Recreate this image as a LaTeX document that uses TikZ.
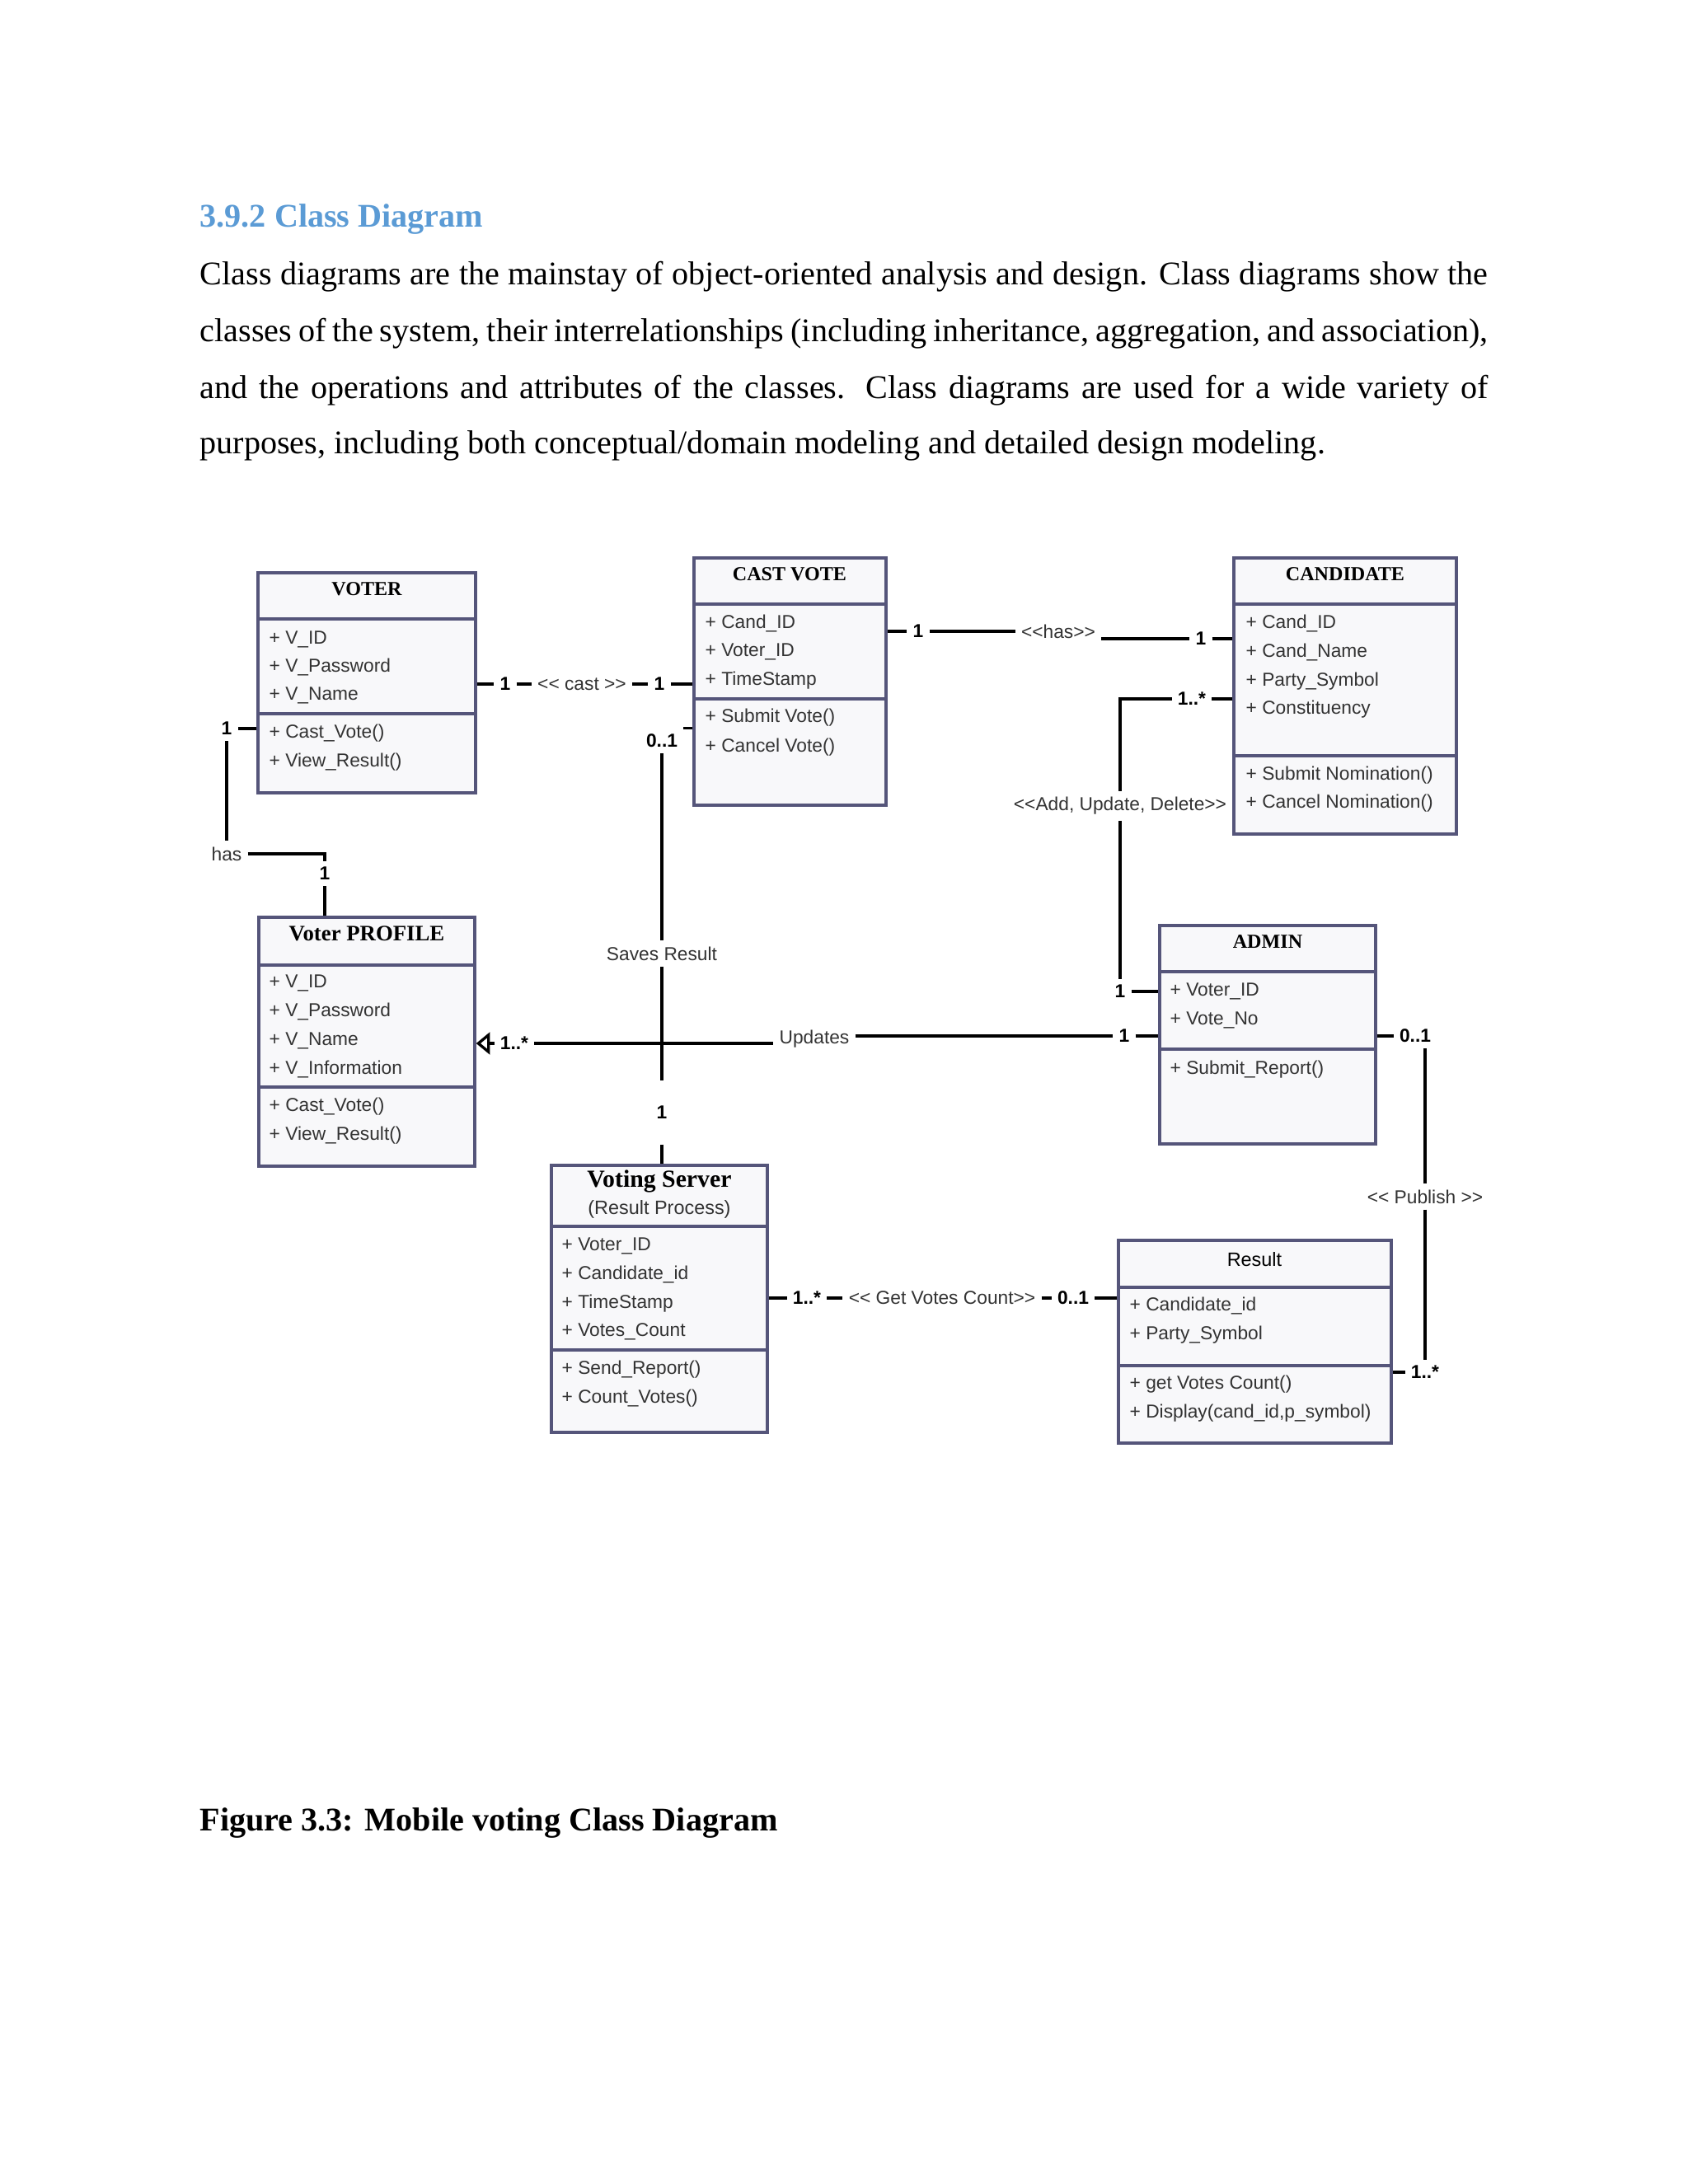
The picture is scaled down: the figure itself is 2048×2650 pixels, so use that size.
\documentclass[tikz,border=0pt]{standalone}
\usepackage{fontspec}
\setmainfont{Liberation Serif}
\setsansfont{Liberation Sans}
\usetikzlibrary{arrows.meta,fit}
\definecolor{vtheading}{HTML}{5B9BD5}
\definecolor{vtborder}{HTML}{55557A}
\definecolor{vtfill}{HTML}{F8F8FA}
\definecolor{vttext}{HTML}{333333}

\begin{document}
\begin{tikzpicture}[
  x=0.2988pt, y=-0.2988pt,
  classbox/.style={draw=vtborder, line width=1pt, fill=vtfill, inner sep=0pt},
  divider/.style={draw=vtborder, line width=1pt},
  ctitle/.style={inner sep=0pt, font=\rmfamily\bfseries\fontsize{7.2}{9}\selectfont},
  member/.style={anchor=west, inner sep=0pt, text=vttext, text height=5pt, text depth=1.5pt,
                 font=\sffamily\fontsize{6.8}{8}\selectfont},
  mult/.style={inner sep=2pt, font=\sffamily\bfseries\fontsize{6.8}{8}\selectfont},
  stereo/.style={inner sep=2pt, text=vttext, font=\sffamily\fontsize{6.8}{8}\selectfont},
  assoc/.style={draw=black, line width=1pt},
  para/.style={anchor=base west, inner sep=0pt, font=\fontsize{12}{14}\selectfont}
]
  \useasboundingbox (0,0) rectangle (2048,2650);
  \fill[white] (0,0) rectangle (2048,2650);

  % page text
  \node[para, font=\bfseries\fontsize{12}{14}\selectfont, text=vtheading] (heading) at (242,275) {3.9.2 Class Diagram};
  \node[para] (line1) at (242,345) {\makebox[467pt][s]{Class diagrams are the mainstay of object-oriented analysis and design. Class diagrams show the}};
  \node[para] (line2) at (242,414) {\makebox[467pt][s]{classes of the system, their interrelationships (including inheritance, aggregation, and association),}};
  \node[para] (line3) at (242,483) {\makebox[467pt][s]{and the operations and attributes of the classes. Class diagrams are used for a wide variety of}};
  \node[para] (line4) at (242,550) {purposes, including both conceptual/domain modeling and detailed design modeling.};
  \node[para, font=\bfseries\fontsize{12}{14}\selectfont] (caption) at (242,2221) {Figure 3.3: Mobile voting Class Diagram};

  % VOTER
  \node[classbox, fit={(313,695) (577,962)}] (voter) {};
  \draw[divider] (voter.west |- 0,751) -- (voter.east |- 0,751);
  \draw[divider] (voter.west |- 0,866) -- (voter.east |- 0,866);
  \node[ctitle] (voterT) at (445,715) {VOTER};
  \node[member] (voterA1) at (326,776) {+ V\_ID};
  \node[member] (voterA2) at (326,810) {+ V\_Password};
  \node[member] (voterA3) at (326,844) {+ V\_Name};
  \node[member] (voterO1) at (326,890) {+ Cast\_Vote()};
  \node[member] (voterO2) at (326,925) {+ View\_Result()};

  % CAST VOTE
  \node[classbox, fit={(842,677) (1075,977)}] (cast) {};
  \draw[divider] (cast.west |- 0,733) -- (cast.east |- 0,733);
  \draw[divider] (cast.west |- 0,848) -- (cast.east |- 0,848);
  \node[ctitle] (castT) at (958,697) {CAST VOTE};
  \node[member] (castA1) at (855,757) {+ Cand\_ID};
  \node[member] (castA2) at (855,791) {+ Voter\_ID};
  \node[member] (castA3) at (855,826) {+ TimeStamp};
  \node[member] (castO1) at (855,871) {+ Submit Vote()};
  \node[member] (castO2) at (855,907) {+ Cancel Vote()};

  % CANDIDATE
  \node[classbox, fit={(1497,677) (1767,1012)}] (cand) {};
  \draw[divider] (cand.west |- 0,733) -- (cand.east |- 0,733);
  \draw[divider] (cand.west |- 0,917) -- (cand.east |- 0,917);
  \node[ctitle] (candT) at (1632,697) {CANDIDATE};
  \node[member] (candA1) at (1511,757) {+ Cand\_ID};
  \node[member] (candA2) at (1511,792) {+ Cand\_Name};
  \node[member] (candA3) at (1511,827) {+ Party\_Symbol};
  \node[member] (candA4) at (1511,861) {+ Constituency};
  \node[member] (candO1) at (1511,941) {+ Submit Nomination()};
  \node[member] (candO2) at (1511,975) {+ Cancel Nomination()};

  % Voter PROFILE
  \node[classbox, fit={(314,1113) (576,1415)}] (vp) {};
  \draw[divider] (vp.west |- 0,1171) -- (vp.east |- 0,1171);
  \draw[divider] (vp.west |- 0,1319) -- (vp.east |- 0,1319);
  \node[ctitle, font=\rmfamily\bfseries\fontsize{8}{10}\selectfont] (vpT) at (445,1133) {Voter PROFILE};
  \node[member] (vpA1) at (326,1193) {+ V\_ID};
  \node[member] (vpA2) at (326,1228) {+ V\_Password};
  \node[member] (vpA3) at (326,1263) {+ V\_Name};
  \node[member] (vpA4) at (326,1298) {+ V\_Information};
  \node[member] (vpO1) at (326,1343) {+ Cast\_Vote()};
  \node[member] (vpO2) at (326,1378) {+ View\_Result()};

  % ADMIN
  \node[classbox, fit={(1407,1123) (1669,1388)}] (admin) {};
  \draw[divider] (admin.west |- 0,1179) -- (admin.east |- 0,1179);
  \draw[divider] (admin.west |- 0,1273) -- (admin.east |- 0,1273);
  \node[ctitle] (adminT) at (1538,1143) {ADMIN};
  \node[member] (adminA1) at (1419,1203) {+ Voter\_ID};
  \node[member] (adminA2) at (1419,1238) {+ Vote\_No};
  \node[member] (adminO1) at (1419,1298) {+ Submit\_Report()};

  % Voting Server
  \node[classbox, fit={(669,1414) (931,1738)}] (vs) {};
  \draw[divider] (vs.west |- 0,1488) -- (vs.east |- 0,1488);
  \draw[divider] (vs.west |- 0,1638) -- (vs.east |- 0,1638);
  \node[ctitle, font=\rmfamily\bfseries\fontsize{8.9}{10}\selectfont] (vsT) at (800,1433) {Voting Server};
  \node[stereo, inner sep=0pt, font=\sffamily\fontsize{7}{8}\selectfont] (vsT2) at (800,1467) {(Result Process)};
  \node[member] (vsA1) at (681,1512) {+ Voter\_ID};
  \node[member] (vsA2) at (681,1547) {+ Candidate\_id};
  \node[member] (vsA3) at (681,1582) {+ TimeStamp};
  \node[member] (vsA4) at (681,1616) {+ Votes\_Count};
  \node[member] (vsO1) at (681,1662) {+ Send\_Report()};
  \node[member] (vsO2) at (681,1697) {+ Count\_Votes()};

  % Result
  \node[classbox, fit={(1357,1505) (1688,1751)}] (result) {};
  \draw[divider] (result.west |- 0,1562) -- (result.east |- 0,1562);
  \draw[divider] (result.west |- 0,1657) -- (result.east |- 0,1657);
  \node[inner sep=0pt, font=\sffamily\fontsize{7}{8}\selectfont] (resultT) at (1522,1528) {Result};
  \node[member] (resultA1) at (1370,1585) {+ Candidate\_id};
  \node[member] (resultA2) at (1370,1620) {+ Party\_Symbol};
  \node[member] (resultO1) at (1370,1680) {+ get Votes Count()};
  \node[member] (resultO2) at (1370,1715) {+ Display(cand\_id,p\_symbol)};

  % association labels
  \node[mult] (c1) at (613,830) {1};
  \node[stereo] (cl) at (706,830) {<{}< cast >{}>};
  \node[mult] (c2) at (800,830) {1};
  \node[mult] (h1) at (1114,766) {1};
  \node[stereo] (hl) at (1284,766) {<{}<has>{}>};
  \node[mult] (h2) at (1457,775) {1};
  \node[mult] (a1) at (1446,848) {1..*};
  \node[stereo] (aud) at (1359,978) {<{}<Add, Update, Delete>{}>};
  \node[mult] (a2) at (1359,1203) {1};
  \node[mult] (s0) at (803,899) {0..1};
  \node[stereo] (sr) at (803,1157) {Saves Result};
  \node[mult, inner ysep=9pt] (s1) at (803,1350) {1};
  \node[mult] (u1) at (624,1266) {1..*};
  \node[stereo] (upd) at (988,1261) {Updates};
  \node[mult] (u2) at (1364,1257) {1};
  \node[mult] (p0) at (1717,1257) {0..1};
  \node[stereo] (pub) at (1729,1452) {<{}< Publish >{}>};
  \node[mult] (p1) at (1729,1665) {1..*};
  \node[mult] (g1) at (979,1575) {1..*};
  \node[stereo] (gl) at (1143,1575) {<{}< Get Votes Count>{}>};
  \node[mult] (g2) at (1302,1575) {0..1};
  \node[mult] (v1) at (275,884) {1};
  \node[stereo] (vh) at (275,1036) {has};
  \node[mult] (v2) at (394,1060) {1};

  % associations
  \draw[assoc] (voter.east |- c1) -- (c1) -- (cl) -- (c2) -- (cast.west |- c2);
  \draw[assoc] (cast.east |- h1) -- (h1) -- (hl);
  \draw[assoc] (hl.east |- h2) -- (h2) -- (cand.west |- h2);
  \draw[assoc] (cand.west |- a1) -- (a1);
  \draw[assoc] (a1) -| (aud);
  \draw[assoc] (aud) -- (a2) -- (admin.west |- a2);
  \draw[assoc] (cast.west |- s0.north) -- (s0.north east);
  \draw[assoc] (s0) -- (sr) -- (s1) -- (s1 |- vs.north);
  \draw[assoc,-{Triangle[open,length=5pt,width=8pt]}] (u1) -- (vp.east |- u1);
  \draw[assoc] (u1) -- (u1 -| upd.west);
  \draw[assoc] (upd.east |- u2) -- (u2) -- (admin.west |- u2);
  \draw[assoc] (admin.east |- p0) -- (p0);
  \draw[assoc] (pub |- p0.south) -- (pub) -- (p1) -- (result.east |- p1);
  \draw[assoc] (vs.east |- g1) -- (g1) -- (gl) -- (g2) -- (result.west |- g2);
  \draw[assoc] (voter.west |- v1) -- (v1) -- (vh);
  \draw[assoc] (vh) -| (v2);
  \draw[assoc] (v2) -- (vp.north -| v2);
\end{tikzpicture}
\end{document}
